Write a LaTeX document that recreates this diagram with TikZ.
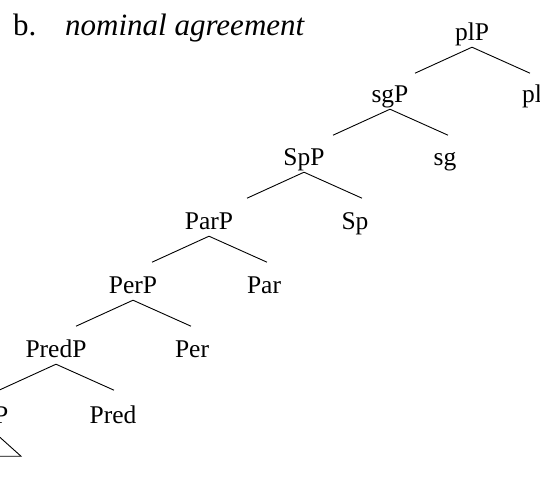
\documentclass[tikz,border=0pt]{standalone}
\usepackage{fontspec}
\setmainfont{Liberation Serif}
\begin{document}
\begin{tikzpicture}[x=1pt,y=-1pt]
        \useasboundingbox (0,0) rectangle (540,493);
        % example label
        \begin{scope}[every node/.style={anchor=base west,inner sep=0pt,font=\fontsize{31}{36}\selectfont}]
        \node (ex) at (13,35) {b.};
        \node (title) at (65,35) {\itshape nominal agreement};
        \end{scope}
        % tree labels
        \begin{scope}[every node/.style={anchor=base,inner sep=0pt,text depth=7pt,font=\fontsize{25.5}{30}\selectfont}]
        \node (plP) at (472,40) {plP};
        \node (pl) at (532,102) {pl};
        \node (sgP) at (390,102) {sgP};
        \node (sg) at (445,165) {sg};
        \node (SpP) at (304,165) {SpP};
        \node (Sp) at (355,229) {Sp};
        \node (ParP) at (209,229) {ParP};
        \node (Par) at (264,293) {Par};
        \node (PerP) at (133,293) {PerP};
        \node (Per) at (192,357) {Per};
        \node (PredP) at (56,357) {PredP};
        \node (Pred) at (113,423) {Pred};
        \node (NP) at (-8,423) {NP};
        \end{scope}
        \foreach \p in {plP,sgP,SpP,ParP,PerP,PredP} {
          \coordinate (\p-l) at ([shift={(-57,26)}]\p.south);
          \coordinate (\p-r) at ([shift={(58,26)}]\p.south);
        }
        \coordinate (NP-l) at ([shift={(-29,26)}]NP.south);
        \coordinate (NP-r) at ([shift={(29,26)}]NP.south);
        \begin{scope}[every edge/.style={draw=black,line width=0.9pt}]
        \path (plP.south) edge (plP-l)
              (plP.south) edge (plP-r)
              (sgP.south) edge (sgP-l)
              (sgP.south) edge (sgP-r)
              (SpP.south) edge (SpP-l)
              (SpP.south) edge (SpP-r)
              (ParP.south) edge (ParP-l)
              (ParP.south) edge (ParP-r)
              (PerP.south) edge (PerP-l)
              (PerP.south) edge (PerP-r)
              (PredP.south) edge (PredP-l)
              (PredP.south) edge (PredP-r);
        \end{scope}
        \draw[line width=0.9pt] (NP.south) -- (NP-r) -- (NP-l) -- cycle;
        \end{tikzpicture}
\end{document}
